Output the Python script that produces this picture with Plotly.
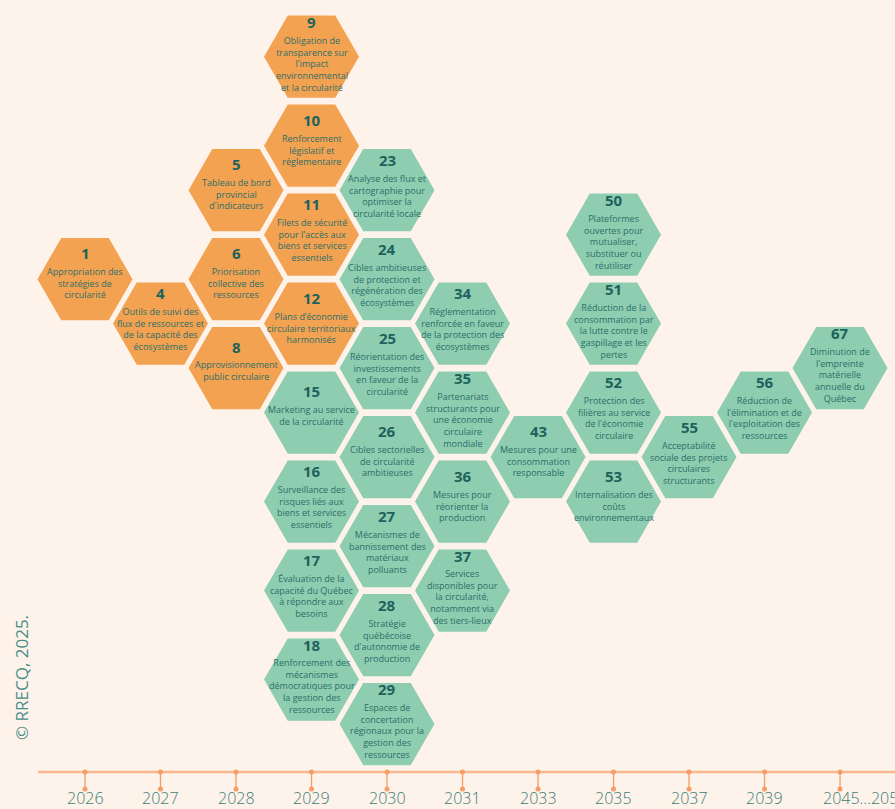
import plotly.graph_objects as go

# ---------------- data ----------------
years = ["2026", "2027", "2028", "2029", "2030", "2031", "2033", "2035", "2037", "2039", "2045...2050"]

ids = [1, 4, 5, 6, 8, 9, 10, 11, 12,
       15, 16, 17, 18,
       23, 24, 25, 26, 27, 28, 29,
       34, 35, 36, 37,
       43,
       50, 51, 52, 53,
       55, 56, 67]

# column index into `years`
cols = [0, 1, 2, 2, 2, 3, 3, 3, 3,
        3, 3, 3, 3,
        4, 4, 4, 4, 4, 4, 4,
        5, 5, 5, 5,
        6,
        7, 7, 7, 7,
        8, 9, 10]

# half-row index (0 = top)
rows = [5, 6, 3, 5, 7, 0, 2, 4, 6,
        8, 10, 12, 14,
        3, 5, 7, 9, 11, 13, 15,
        6, 8, 10, 12,
        9,
        4, 6, 8, 10,
        9, 8, 7]

groups = ["A"] * 9 + ["B"] * 23

labels = [
    "Appropriation des<br>stratégies de<br>circularité",
    "Outils de suivi des<br>flux de ressources et<br>de la capacité des<br>écosystèmes",
    "Tableau de bord<br>provincial<br>d'indicateurs",
    "Priorisation<br>collective des<br>ressources",
    "Approvisionnement<br>public circulaire",
    "Obligation de<br>transparence sur<br>l'impact<br>environnemental<br>et la circularité",
    "Renforcement<br>législatif et<br>réglementaire",
    "Filets de sécurité<br>pour l'accès aux<br>biens et services<br>essentiels",
    "Plans d’économie<br>circulaire territoriaux<br>harmonisés",
    "Marketing au service<br>de la circularité",
    "Surveillance des<br>risques liés aux<br>biens et services<br>essentiels",
    "Évaluation de la<br>capacité du Québec<br>à répondre aux<br>besoins",
    "Renforcement des<br>mécanismes<br>démocratiques pour<br>la gestion des<br>ressources",
    "Analyse des flux et<br>cartographie pour<br>optimiser la<br>circularité locale",
    "Cibles ambitieuses<br>de protection et<br>régénération des<br>écosystèmes",
    "Réorientation des<br>investissements<br>en faveur de la<br>circularité",
    "Cibles sectorielles<br>de circularité<br>ambitieuses",
    "Mécanismes de<br>bannissement des<br>matériaux<br>polluants",
    "Stratégie<br>québécoise<br>d'autonomie de<br>production",
    "Espaces de<br>concertation<br>régionaux pour la<br>gestion des<br>ressources",
    "Réglementation<br>renforcée en faveur<br>de la protection des<br>écosystèmes",
    "Partenariats<br>structurants pour<br>une économie<br>circulaire<br>mondiale",
    "Mesures pour<br>réorienter la<br>production",
    "Services<br>disponibles pour<br>la circularité,<br>notamment via<br>des tiers-lieux",
    "Mesures pour une<br>consommation<br>responsable",
    "Plateformes<br>ouvertes pour<br>mutualiser,<br>substituer ou<br>réutiliser",
    "Réduction de la<br>consommation par<br>la lutte contre le<br>gaspillage et les<br>pertes",
    "Protection des<br>filières au service<br>de l'économie<br>circulaire",
    "Internalisation des<br>coûts<br>environnementaux",
    "Acceptabilité<br>sociale des projets<br>circulaires<br>structurants",
    "Réduction de<br>l'élimination et de<br>l'exploitation des<br>ressources",
    "Diminution de<br>l'empreinte<br>matérielle<br>annuelle du<br>Québec",
]

# ---------------- style ----------------
BG = "#FDF3EA"
GROUP_COLORS = {"A": "#F3A251", "B": "#8ECDB0"}
NUM_COLOR = "#1E625D"
TXT_COLOR = "#2C6F69"
AXIS_COLOR = "#F9B890"
TICK_COLOR = "#F59D62"
FONT = "Open Sans"

FIG_W, FIG_H = 895, 809
MARGIN_L = 38
X_RANGE = [-0.6225, 10.728]
Y_RANGE = [16.910, -1.274]          # full figure height
PX_PER_Y = FIG_H / (Y_RANGE[0] - Y_RANGE[1])
AXIS_Y = Y_RANGE[1] + 772 / PX_PER_Y   # timeline baseline
STEM_Y = Y_RANGE[1] + 789 / PX_PER_Y   # end of tick stems
LABEL_Y = Y_RANGE[1] + 798 / PX_PER_Y  # tick label centre

fig = go.Figure()

# timeline baseline
fig.add_trace(go.Scatter(
    x=X_RANGE, y=[AXIS_Y, AXIS_Y], mode="lines",
    line=dict(color=AXIS_COLOR, width=2.5),
    hoverinfo="skip", showlegend=False))

# tick stems with dots
tick_x = list(range(len(years)))
sx, sy = [], []
for k in tick_x:
    sx += [k, k, None]
    sy += [AXIS_Y, STEM_Y, None]
fig.add_trace(go.Scatter(
    x=sx, y=sy, mode="lines+markers",
    line=dict(color=TICK_COLOR, width=1.3),
    marker=dict(size=5, color=TICK_COLOR),
    cliponaxis=False, hoverinfo="skip", showlegend=False))

# hexagons
fig.add_trace(go.Scatter(
    x=cols, y=rows, mode="markers",
    marker=dict(symbol="hexagon2", size=95,
                color=[GROUP_COLORS[g] for g in groups],
                line=dict(width=0)),
    cliponaxis=False, hoverinfo="skip", showlegend=False))

annotations = []
for i, c, r, lab in zip(ids, cols, rows, labels):
    n = lab.count("<br>") + 1
    num_off = -(12.5 + 4.5 * n)            # px, downward positive
    desc_off = num_off + 18.5 + 5.85 * (n - 1)
    annotations.append(dict(
        x=c, y=r, xref="x", yref="y", text=f"<b>{i}</b>", showarrow=False,
        font=dict(family=FONT, size=15, color=NUM_COLOR),
        xanchor="center", yanchor="middle", yshift=-num_off))
    annotations.append(dict(
        x=c, y=r, xref="x", yref="y", text=lab, showarrow=False,
        font=dict(family=FONT, size=9, color=TXT_COLOR),
        xanchor="center", yanchor="middle", yshift=-desc_off, align="center"))

for k, yr in enumerate(years):
    last = k == len(years) - 1
    annotations.append(dict(
        x=k, y=LABEL_Y, xref="x", yref="y", text=yr, showarrow=False,
        font=dict(family=FONT, size=16, color="#3B7D77", weight=300),
        xanchor="left" if last else "center", xshift=-18 if last else 0,
        yanchor="middle", borderpad=0))

plot_w = FIG_W - MARGIN_L
annotations.append(dict(
    x=(21 - MARGIN_L) / plot_w, y=(FIG_H - 678) / FIG_H,
    xref="paper", yref="paper", text="© RRECQ, 2025.",
    showarrow=False, textangle=-90,
    font=dict(family=FONT, size=17, color="#4A8E88"),
    xanchor="center", yanchor="middle"))

fig.update_layout(
    width=FIG_W, height=FIG_H,
    margin=dict(l=MARGIN_L, r=0, t=0, b=0),
    paper_bgcolor=BG, plot_bgcolor=BG,
    showlegend=False,
    annotations=annotations,
    xaxis=dict(range=X_RANGE, visible=False, fixedrange=True),
    yaxis=dict(range=Y_RANGE, visible=False, fixedrange=True),
)

fig.write_html(
    "out.html",
    config={"displayModeBar": False},
    post_script="document.body.style.margin='0';document.body.style.background='%s';" % BG,
)
